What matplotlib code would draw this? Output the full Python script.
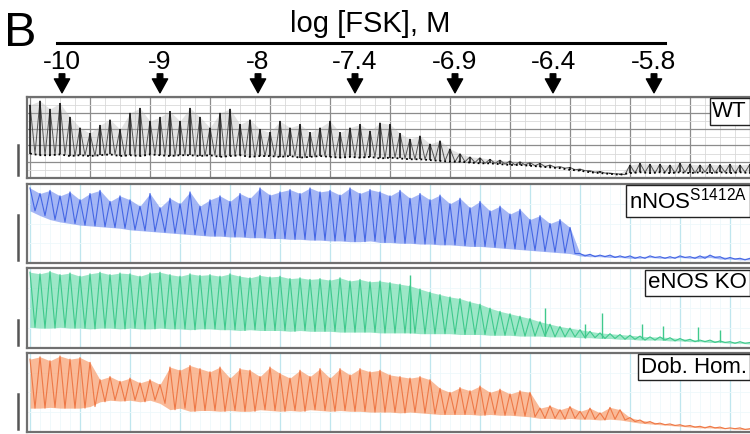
import matplotlib
matplotlib.use('Agg')
import matplotlib.pyplot as plt
import numpy as np
from matplotlib import font_manager
from matplotlib.ticker import MultipleLocator

# pick an Arial-like family that is installed
names = {f.name for f in font_manager.fontManager.ttflist}
plt.rcParams['font.family'] = [f for f in ['Liberation Sans', 'DejaVu Sans'] if f in names]

# FSK doses and the time (trace units) when each was added
doses = ['-10', '-9', '-8', '-7.4', '-6.9', '-6.4', '-5.8']
dose_times = [3.2, 13.0, 22.8, 32.5, 42.5, 52.3, 62.4]

# trace envelopes (fraction of panel height), one sample per time unit
wt_peak = [0.90, 0.95, 0.85, 0.92, 0.75, 0.62, 0.55, 0.65, 0.72, 0.60,
           0.80, 0.86, 0.70, 0.75, 0.82, 0.70, 0.86, 0.75, 0.62, 0.80,
           0.85, 0.66, 0.72, 0.60, 0.56, 0.70, 0.62, 0.66, 0.56, 0.62,
           0.70, 0.56, 0.62, 0.66, 0.58, 0.68, 0.66, 0.55, 0.48, 0.52,
           0.42, 0.46, 0.36, 0.30, 0.26, 0.25, 0.23, 0.22, 0.21, 0.20,
           0.19, 0.18, 0.16, 0.14, 0.13, 0.11, 0.09, 0.08, 0.06, 0.05,
           0.16, 0.18, 0.17, 0.17, 0.16, 0.18, 0.17, 0.16, 0.17, 0.16,
           0.17, 0.16, 0.17]
wt_base = [0.30, 0.28, 0.28, 0.29, 0.27, 0.28, 0.27, 0.28, 0.29, 0.27,
           0.28, 0.27, 0.29, 0.28, 0.27, 0.28, 0.28, 0.27, 0.28, 0.26,
           0.27, 0.28, 0.26, 0.27, 0.27, 0.26, 0.27, 0.25, 0.26, 0.27,
           0.26, 0.25, 0.26, 0.25, 0.26, 0.24, 0.25, 0.24, 0.23, 0.23,
           0.22, 0.21, 0.20, 0.20, 0.19, 0.18, 0.18, 0.17, 0.16, 0.16,
           0.15, 0.14, 0.13, 0.12, 0.10, 0.09, 0.07, 0.06, 0.05, 0.04,
           0.06, 0.07, 0.06, 0.07, 0.06, 0.07, 0.06, 0.07, 0.06, 0.07,
           0.06, 0.07, 0.06]

nnos_peak = [0.95, 0.88, 0.92, 0.85, 0.90, 0.80, 0.88, 0.92, 0.78, 0.85,
             0.80, 0.72, 0.88, 0.70, 0.82, 0.75, 0.90, 0.72, 0.80, 0.85,
             0.78, 0.88, 0.82, 0.95, 0.86, 0.90, 0.93, 0.88, 0.95, 0.90,
             0.92, 0.86, 0.95, 0.88, 0.93, 0.90, 0.85, 0.92, 0.82, 0.88,
             0.80, 0.86, 0.75, 0.82, 0.70, 0.78, 0.66, 0.72, 0.62, 0.68,
             0.55, 0.60, 0.50, 0.55, 0.45, 0.12, 0.11, 0.10, 0.10, 0.09,
             0.09, 0.08, 0.09, 0.08, 0.08, 0.09, 0.08, 0.09, 0.10, 0.08,
             0.07, 0.06, 0.06]
nnos_base = [0.66, 0.60, 0.55, 0.52, 0.50, 0.48, 0.47, 0.46, 0.45, 0.44,
             0.42, 0.41, 0.40, 0.39, 0.38, 0.37, 0.36, 0.35, 0.34, 0.34,
             0.33, 0.33, 0.32, 0.32, 0.31, 0.31, 0.30, 0.30, 0.29, 0.29,
             0.28, 0.28, 0.27, 0.27, 0.28, 0.26, 0.26, 0.25, 0.25, 0.24,
             0.24, 0.23, 0.23, 0.22, 0.21, 0.21, 0.20, 0.19, 0.18, 0.17,
             0.16, 0.15, 0.14, 0.13, 0.12, 0.09, 0.08, 0.08, 0.07, 0.07,
             0.06, 0.06, 0.07, 0.06, 0.06, 0.07, 0.06, 0.06, 0.07, 0.05,
             0.05, 0.04, 0.04]

enos_peak = [0.95, 0.93, 0.96, 0.92, 0.94, 0.90, 0.93, 0.95, 0.92, 0.94,
             0.93, 0.90, 0.94, 0.95, 0.92, 0.90, 0.93, 0.91, 0.92, 0.90,
             0.93, 0.90, 0.88, 0.91, 0.89, 0.90, 0.87, 0.88, 0.86, 0.87,
             0.85, 0.88, 0.84, 0.86, 0.83, 0.84, 0.82, 0.80, 0.78, 0.74,
             0.70, 0.67, 0.64, 0.62, 0.58, 0.55, 0.50, 0.46, 0.43, 0.40,
             0.37, 0.33, 0.30, 0.27, 0.25, 0.23, 0.21, 0.19, 0.18, 0.17,
             0.16, 0.15, 0.14, 0.14, 0.13, 0.12, 0.11, 0.10, 0.10, 0.09,
             0.08, 0.08, 0.07]
enos_base = [0.26, 0.25, 0.25, 0.26, 0.25, 0.25, 0.24, 0.25, 0.25, 0.24,
             0.25, 0.24, 0.24, 0.25, 0.24, 0.24, 0.23, 0.24, 0.24, 0.23,
             0.23, 0.22, 0.23, 0.22, 0.22, 0.22, 0.21, 0.22, 0.21, 0.21,
             0.21, 0.20, 0.20, 0.20, 0.20, 0.19, 0.19, 0.19, 0.19, 0.18,
             0.18, 0.18, 0.18, 0.17, 0.17, 0.17, 0.16, 0.16, 0.16, 0.15,
             0.15, 0.15, 0.14, 0.14, 0.14, 0.13, 0.13, 0.12, 0.12, 0.11,
             0.11, 0.10, 0.10, 0.10, 0.09, 0.09, 0.08, 0.08, 0.07, 0.07,
             0.06, 0.06, 0.05]
# isolated tall transients in the eNOS KO trace
enos_spike_t = [38.0, 51.5, 55.5, 57.2, 61.2, 63.3, 66.8, 69.0]
enos_spike_top = [0.92, 0.50, 0.30, 0.44, 0.30, 0.28, 0.26, 0.22]
enos_spike_bot = [0.19, 0.15, 0.13, 0.12, 0.11, 0.10, 0.09, 0.08]

dob_peak = [0.92, 0.95, 0.90, 0.96, 0.92, 0.94, 0.88, 0.66, 0.70, 0.64,
            0.68, 0.62, 0.66, 0.60, 0.82, 0.78, 0.84, 0.80, 0.76, 0.82,
            0.68, 0.80, 0.78, 0.70, 0.82, 0.74, 0.68, 0.78, 0.70, 0.80,
            0.68, 0.80, 0.72, 0.80, 0.76, 0.78, 0.72, 0.70, 0.68, 0.70,
            0.66, 0.55, 0.50, 0.56, 0.52, 0.58, 0.50, 0.54, 0.48, 0.52,
            0.50, 0.30, 0.33, 0.28, 0.32, 0.26, 0.30, 0.24, 0.31, 0.28,
            0.18, 0.15, 0.13, 0.11, 0.10, 0.09, 0.08, 0.07, 0.07, 0.06,
            0.05, 0.05, 0.04]
dob_base = [0.30, 0.30, 0.31, 0.30, 0.30, 0.30, 0.32, 0.38, 0.40, 0.39,
            0.40, 0.38, 0.40, 0.36, 0.28, 0.30, 0.26, 0.27, 0.27, 0.26,
            0.27, 0.26, 0.26, 0.28, 0.27, 0.26, 0.27, 0.26, 0.28, 0.27,
            0.26, 0.27, 0.26, 0.26, 0.25, 0.25, 0.25, 0.24, 0.25, 0.24,
            0.23, 0.22, 0.22, 0.22, 0.22, 0.21, 0.22, 0.21, 0.21, 0.20,
            0.19, 0.17, 0.17, 0.16, 0.17, 0.16, 0.16, 0.15, 0.16, 0.15,
            0.13, 0.11, 0.10, 0.09, 0.08, 0.07, 0.06, 0.05, 0.05, 0.04,
            0.04, 0.03, 0.03]

labels = ['WT', r'nNOS$^{\mathregular{S1412A}}$', 'eNOS KO', 'Dob. Hom.']
peaks = [wt_peak, nnos_peak, enos_peak, dob_peak]
bases = [wt_base, nnos_base, enos_base, dob_base]
line_colors = ['#111111', '#4466e4', '#3fc98c', '#ee7846']
fill_colors = ['#b0b0b0', '#7e98f2', '#72ddb0', '#f89d6c']
scale_bars = [0.37, 0.57, 0.31, 0.44]
title_x = 34.0  # centre of the header title on the time axis

fig = plt.figure(figsize=(7.5, 4.34), dpi=100)
left, width = 27 / 750, 725 / 750
rows = [(0.590, 0.187), (0.394, 0.182), (0.198, 0.184), (0.005, 0.182)]
xmin, xmax = -0.3, 72.2

for k, (bot, h) in enumerate(rows):
    ax = fig.add_axes([left, bot, width, h])
    t = np.arange(len(peaks[k]))
    pk = np.array(peaks[k])
    bs = np.array(bases[k])
    # spike train: up to each peak, back down to the baseline
    zx = np.column_stack([t, t + 0.5]).ravel()
    zy = np.column_stack([pk, bs]).ravel()
    if k == 0:
        ax.fill_between(t, bs, pk, color=fill_colors[k], lw=0, alpha=0.35, zorder=2)
        ax.plot(zx, zy, color='#555555', lw=0.7, zorder=3)
        ax.vlines(t, bs, pk, color=line_colors[k], lw=1.1, zorder=3)
        ax.plot(t, bs, color='black', lw=1.3, ls=':', zorder=3)
    else:
        ax.fill_between(t, bs, pk, color=fill_colors[k], lw=0, alpha=0.7, zorder=2)
        ax.plot(zx, zy, color=line_colors[k], lw=0.8, zorder=3)
    if k == 2:
        ax.vlines(enos_spike_t, enos_spike_bot, enos_spike_top, color=line_colors[k], lw=1.0, zorder=3)

    ax.set_xlim(xmin, xmax)
    ax.set_ylim(0, 1)
    if k == 0:
        ax.xaxis.set_major_locator(MultipleLocator(6))
        ax.xaxis.set_minor_locator(MultipleLocator(1.5))
        ax.yaxis.set_major_locator(MultipleLocator(0.2))
        ax.yaxis.set_minor_locator(MultipleLocator(0.1))
        ax.grid(which='major', color='#8c8c8c', lw=0.9)
        ax.grid(which='minor', color='#d9d9d9', lw=0.6)
    else:
        ax.xaxis.set_major_locator(MultipleLocator(5))
        ax.xaxis.set_minor_locator(MultipleLocator(1))
        ax.yaxis.set_major_locator(MultipleLocator(0.25))
        ax.grid(which='major', axis='x', color='#bfe6ee', lw=0.9)
        ax.grid(which='minor', axis='x', color='#eef8fb', lw=0.6)
        ax.grid(which='major', axis='y', color='#eef8fb', lw=0.6)
    ax.set_axisbelow(True)
    ax.tick_params(which='both', length=0, labelbottom=False, labelleft=False)
    for s in ax.spines.values():
        s.set_color('#707070')
        s.set_linewidth(1.6)

    ax.text(0.993, 0.95, labels[k], transform=ax.transAxes, ha='right', va='top',
            fontsize=16, zorder=5,
            bbox=dict(boxstyle='square,pad=0.12', fc='white', ec='#222222', lw=1.0))

    # amplitude scale bar to the left of each trace
    ax.plot([-0.0125, -0.0125], [0.04, 0.04 + scale_bars[k]], transform=ax.transAxes,
            color='#555555', lw=1.8, clip_on=False)

# header with dose arrows, sharing the trace time axis
hdr = fig.add_axes([left, 0.777, width, 0.223])
hdr.set_xlim(xmin, xmax)
hdr.set_ylim(97, 0)
hdr.axis('off')
hdr.text(title_x, 24, 'log [FSK], M', ha='center', va='center', fontsize=21)
hdr.plot([dose_times[0] - 0.5, dose_times[-1] + 1.1], [43, 43], color='black', lw=2.2)
for d, tt in zip(doses, dose_times):
    hdr.text(tt, 62, d, ha='center', va='center', fontsize=19)
    hdr.annotate('', xy=(tt, 93), xytext=(tt, 74),
                 arrowprops=dict(arrowstyle='simple,head_length=0.5,head_width=0.55,tail_width=0.2',
                                 color='black', shrinkA=0, shrinkB=0, mutation_scale=20))

fig.text(4 / 750, 1 - 33 / 434, 'B', fontsize=35, ha='left', va='center')

fig.savefig('out.png', dpi=100)
